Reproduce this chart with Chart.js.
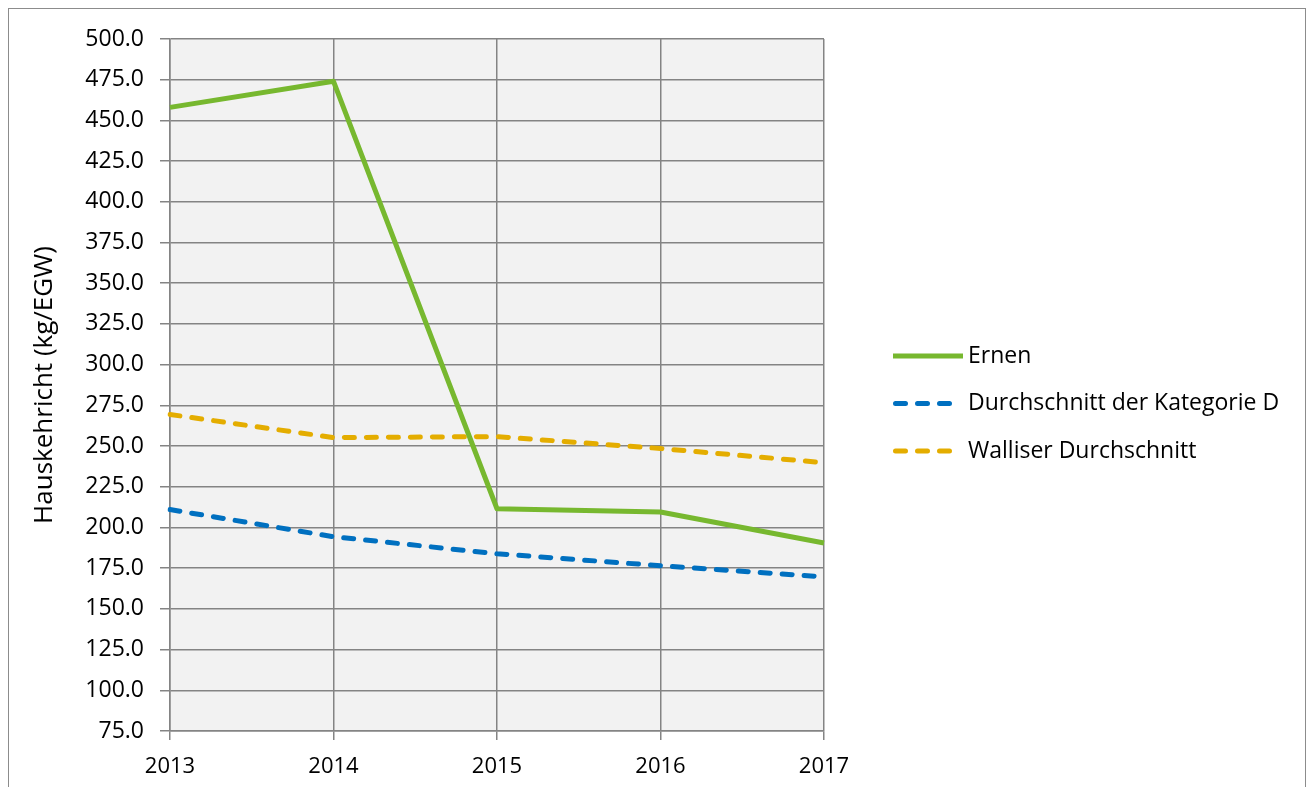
<!DOCTYPE html>
<html>
<head>
<meta charset="utf-8">
<script src="https://cdn.jsdelivr.net/npm/chart.js@4.4.0/dist/chart.umd.min.js"></script>
<style>
  html, body { margin: 0; padding: 0; background: #fff; }
  .frame {
    position: absolute; left: 8px; top: 8px;
    width: 1296px; height: 779px;
    border: 1px solid #8c8c8c; border-bottom: none;
  }
  canvas { display: block; }
</style>
</head>
<body>
<div class="frame">
  <canvas id="chart" width="1296" height="779"></canvas>
</div>
<script>
// years on the x axis
const years = ['2013', '2014', '2015', '2016', '2017'];

// Hauskehricht in kg per EGW
const ernen = [458.0, 474.0, 211.5, 209.5, 190.5];
const kategorieD = [211.0, 194.3, 183.9, 176.5, 169.7];
const walliser = [269.4, 255.2, 255.8, 248.5, 239.8];

const yMin = 75;
const yMax = 500;
const yStep = 25;

const FONT = '"Open Sans", "Liberation Sans", sans-serif';
const GRID = '#848484';

// grey plot background
const plotBg = {
  id: 'plotBg',
  beforeDraw(chart) {
    const { ctx, chartArea: a } = chart;
    ctx.save();
    ctx.fillStyle = '#f2f2f2';
    ctx.fillRect(a.left, a.top, a.right - a.left, a.bottom - a.top);
    ctx.restore();
  }
};

// legend drawn next to the plot, styles taken from the datasets
const sideLegend = {
  id: 'sideLegend',
  afterDraw(chart) {
    const { ctx, chartArea: a } = chart;
    const x0 = a.right + 69;
    const mid = (a.top + a.bottom) / 2;
    ctx.save();
    ctx.font = '23px ' + FONT;
    ctx.textBaseline = 'middle';
    chart.data.datasets.forEach((ds, i) => {
      const y = mid - 29 + i * 47.5;
      ctx.strokeStyle = ds.borderColor;
      ctx.lineWidth = ds.borderWidth;
      ctx.lineCap = ds.borderCapStyle;
      ctx.setLineDash(ds.borderDash);
      ctx.beginPath();
      if (ds.borderDash.length) {
        ctx.moveTo(x0 + 2.5, y);
        ctx.lineTo(x0 + 68, y);
      } else {
        ctx.moveTo(x0, y);
        ctx.lineTo(x0 + 70, y);
      }
      ctx.stroke();
      ctx.setLineDash([]);
      ctx.fillStyle = '#000';
      ctx.fillText(ds.label, x0 + 75, y);
    });
    ctx.restore();
  }
};

const lineDataset = (label, data, color, dashed) => ({
  label: label,
  data: data,
  borderColor: color,
  backgroundColor: color,
  borderWidth: 5,
  borderDash: dashed ? [10, 12] : [],
  borderCapStyle: dashed ? 'round' : 'butt',
  borderJoinStyle: 'round',
  tension: 0,
  fill: false,
  pointRadius: 0,
  pointHoverRadius: 0
});

new Chart(document.getElementById('chart'), {
  type: 'line',
  data: {
    labels: years,
    datasets: [
      lineDataset('Ernen', ernen, '#77b82f', false),
      lineDataset('Durchschnitt der Kategorie D', kategorieD, '#0070c0', true),
      lineDataset('Walliser Durchschnitt', walliser, '#e4ad00', true)
    ]
  },
  options: {
    responsive: false,
    animation: false,
    layout: { padding: { left: 16, top: 30, right: 0, bottom: 0 } },
    plugins: {
      tooltip: { enabled: false },
      legend: { display: false }
    },
    scales: {
      x: {
        offset: false,
        grid: { color: GRID, lineWidth: 1.5, tickLength: 9 },
        border: { color: GRID, width: 1.5 },
        ticks: { color: '#000', padding: 14, maxRotation: 0, font: { family: FONT, size: 22 } },
        afterFit(scale) { scale.height = 57; }
      },
      y: {
        min: yMin,
        max: yMax,
        grid: { color: GRID, lineWidth: 1.5, tickLength: 10 },
        border: { color: GRID, width: 1.5 },
        ticks: {
          stepSize: yStep,
          color: '#000',
          padding: 16,
          font: { family: FONT, size: 23 },
          callback: (v) => Number(v).toFixed(1)
        },
        title: {
          display: true,
          text: 'Hauskehricht (kg/EGW)',
          color: '#000',
          padding: { top: 4, bottom: 4 },
          font: { family: FONT, size: 26 }
        },
        afterFit(scale) { scale.width = 145; }
      },
      // empty axis reserving the room for the legend on the right
      gap: {
        type: 'linear',
        position: 'right',
        display: true,
        grid: { display: false },
        border: { display: false },
        ticks: { display: false },
        afterFit(scale) { scale.width = 481; }
      }
    }
  },
  plugins: [plotBg, sideLegend]
});
</script>
</body>
</html>
